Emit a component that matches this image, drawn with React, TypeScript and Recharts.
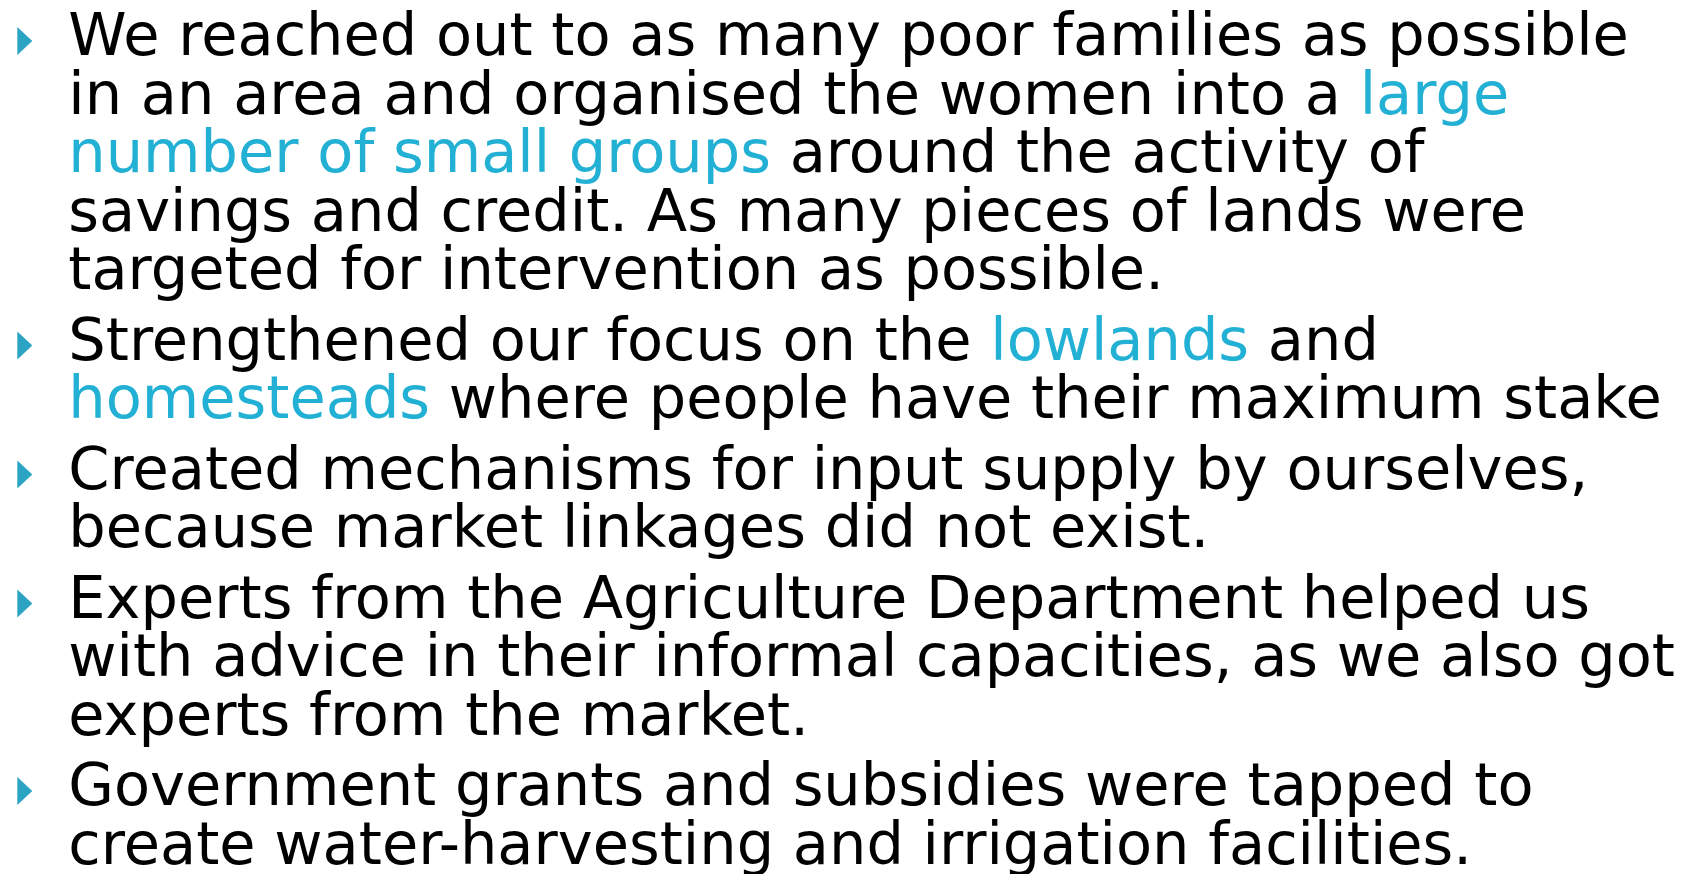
import { Scatter, ScatterChart, XAxis, YAxis } from "recharts";

// each line is a list of [text, highlighted] segments
type Seg = [string, boolean];

const paraOne: Seg[][] = [
  [["We reached out to as many poor families as possible", false]],
  [["in an area and organised the women into a ", false], ["large", true]],
  [["number of small groups", true], [" around the activity of", false]],
  [["savings and credit. As many pieces of lands were", false]],
  [["targeted for intervention as possible.", false]],
];

const paraTwo: Seg[][] = [
  [["Strengthened our focus on the ", false], ["lowlands", true], [" and", false]],
  [["homesteads", true], [" where people have their maximum stake", false]],
];

const paraThree: Seg[][] = [
  [["Created mechanisms for input supply by ourselves,", false]],
  [["because market linkages did not exist.", false]],
];

const paraFour: Seg[][] = [
  [["Experts from the Agriculture Department helped us", false]],
  [["with advice in their informal capacities, as we also got", false]],
  [["experts from the market.", false]],
];

const paraFive: Seg[][] = [
  [["Government grants and subsidies were tapped to", false]],
  [["create water-harvesting and irrigation facilities.", false]],
];

const paragraphs = [paraOne, paraTwo, paraThree, paraFour, paraFive];

const W = 1700;
const H = 874;
const LINE_PX = 58.5; // distance between baselines
const FIRST_BASELINE = 55;
const PARA_GAP = 12 / LINE_PX; // extra space between bullets, in lines
const COL_PX = 43.5; // bullet column -> text column
const BULLET_X = 24.8;

const ACCENT = "#22b0d4";
const BULLET = "#2ba4c3";

type Row = { col: number; slot: number; segs: Seg[] };

const lineRows: Row[] = [];
const bulletRows: Row[] = [];
let n = 0;
paragraphs.forEach((p, pi) => {
  p.forEach((segs, li) => {
    const slot = n + pi * PARA_GAP;
    lineRows.push({ col: 1, slot, segs });
    if (li === 0) bulletRows.push({ col: 0, slot, segs });
    n++;
  });
});

const xDomain = [-BULLET_X / COL_PX, (W - BULLET_X) / COL_PX];
const yDomain = [-FIRST_BASELINE / LINE_PX, (H - FIRST_BASELINE) / LINE_PX];

const TextLine = (props: any) => {
  const { cx, cy, payload } = props;
  return (
    <text
      x={cx}
      y={cy}
      fontFamily="'DejaVu Sans', sans-serif"
      fontSize={59}
      fill="#000"
      style={{ whiteSpace: "pre" }}
    >
      {payload.segs.map(([t, hi]: Seg, i: number) => (
        <tspan key={i} fill={hi ? ACCENT : "#000"}>
          {t}
        </tspan>
      ))}
    </text>
  );
};

const Arrow = (props: any) => {
  const { cx, cy } = props;
  const c = cy - 14;
  return (
    <polygon
      points={`${cx - 7.5},${c - 14} ${cx + 7.5},${c} ${cx - 7.5},${c + 14}`}
      fill={BULLET}
    />
  );
};

export default function App() {
  return (
    <div style={{ position: "absolute", left: 0, top: 0, background: "#fff" }}>
      <ScatterChart
        width={W}
        height={H}
        margin={{ top: 0, right: 0, bottom: 0, left: 0 }}
      >
        <XAxis
          type="number"
          dataKey="col"
          domain={xDomain}
          allowDataOverflow
          hide
        />
        <YAxis
          type="number"
          dataKey="slot"
          domain={yDomain}
          allowDataOverflow
          reversed
          hide
        />
        <Scatter data={bulletRows} shape={Arrow} isAnimationActive={false} />
        <Scatter data={lineRows} shape={TextLine} isAnimationActive={false} />
      </ScatterChart>
    </div>
  );
}
